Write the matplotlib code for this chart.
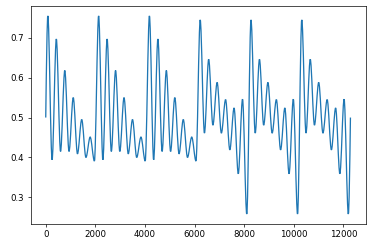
# Import libraries
import matplotlib.pyplot as plt
from matplotlib.path import Path
from matplotlib.patches import PathPatch

# Data: the signal is made of 6 blocks of 2048 samples,
# each block starts at 0.5 and swings through 12 peaks / troughs
block_len = 2048
start_value = 0.5
end_value = 0.5

# position of each peak / trough inside a block
extrema_pos = [85, 256, 427, 597, 768, 939, 1109, 1280, 1451, 1621, 1792, 1963]

block1 = [0.755, 0.394, 0.697, 0.415, 0.618, 0.415, 0.550, 0.409, 0.495, 0.400, 0.451, 0.391]
block2 = [0.755, 0.394, 0.697, 0.415, 0.618, 0.415, 0.550, 0.409, 0.495, 0.400, 0.451, 0.391]
block3 = [0.755, 0.394, 0.697, 0.415, 0.618, 0.415, 0.550, 0.409, 0.495, 0.400, 0.451, 0.391]
block4 = [0.745, 0.461, 0.646, 0.481, 0.588, 0.461, 0.545, 0.419, 0.524, 0.359, 0.546, 0.258]
block5 = [0.745, 0.461, 0.646, 0.481, 0.588, 0.461, 0.545, 0.419, 0.524, 0.359, 0.546, 0.258]
block6 = [0.745, 0.461, 0.646, 0.481, 0.588, 0.461, 0.545, 0.419, 0.524, 0.359, 0.546, 0.258]
blocks = [block1, block2, block3, block4, block5, block6]

# Build the list of points
X = [0]
Y = [start_value]
for i, values in enumerate(blocks):
    X += [i * block_len + p for p in extrema_pos]
    Y += values
X.append(len(blocks) * block_len)
Y.append(end_value)

# Smooth curve through the points (flat at the peaks / troughs)
verts = [(X[0], Y[0])]
codes = [Path.MOVETO]
last = len(X) - 2
for i in range(len(X) - 1):
    x0, y0, x1, y1 = X[i], Y[i], X[i + 1], Y[i + 1]
    d = x1 - x0
    h = y1 - y0
    c1 = (x0 + d / 3, y0 + h * 0.5236) if i == 0 else (x0 + d / 3, y0)
    c2 = (x1 - d / 3, y1 - h * 0.5236) if i == last else (x1 - d / 3, y1)
    verts += [c1, c2, (x1, y1)]
    codes += [Path.CURVE4, Path.CURVE4, Path.CURVE4]

fig, ax = plt.subplots(figsize=(6, 4), dpi=62)
fig.subplots_adjust(left=0.082, right=0.983, bottom=0.097, top=0.976)
ax.add_patch(PathPatch(Path(verts, codes), facecolor='none', edgecolor='#1f77b4', lw=1.5))
ax.autoscale_view()
plt.savefig('out.png', dpi=62)
